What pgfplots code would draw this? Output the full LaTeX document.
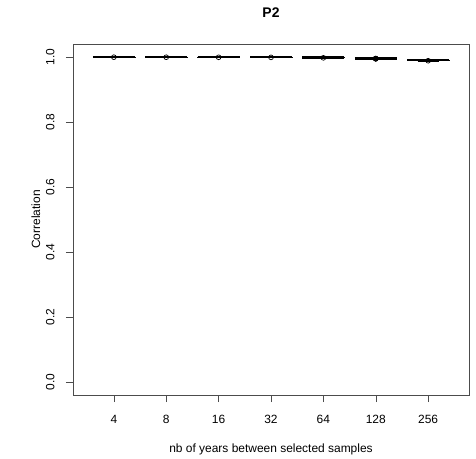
\documentclass[border=0pt]{standalone}
\usepackage{fontspec}
\setmainfont{Liberation Sans}
\usepackage{pgfplots}
\pgfplotsset{compat=1.18}
\usepgfplotslibrary{statistics}
\usetikzlibrary{calc}
\begin{document}
\begin{tikzpicture}
\begin{axis}[
  scale only axis,
  width=396bp, height=351bp,
  xmin=0.22, xmax=7.78,
  ymin=-0.04, ymax=1.04,
  axis line style={draw=black!70},
  xtick={1,2,3,4,5,6,7},
  xticklabels={4,8,16,32,64,128,256},
  ytick={0,0.2,0.4,0.6,0.8,1.0},
  yticklabels={0.0,0.2,0.4,0.6,0.8,1.0},
  tick align=outside,
  tick pos=left,
  major tick length=7bp,
  tick style={draw=black!70, line width=0.5pt},
  ticklabel style={font=\fontsize{12}{13}\selectfont},
  yticklabel style={rotate=90, anchor=south, yshift=8bp},
  xticklabel style={yshift=-10bp},
  xlabel={nb of years between selected samples},
  ylabel={Correlation},
  label style={font=\fontsize{12}{13}\selectfont},
  xlabel style={yshift=-13bp},
  ylabel style={yshift=-1bp},
  title={\textbf{P2}},
  title style={font=\fontsize{14}{15}\selectfont, yshift=17bp},
  boxplot/draw direction=y,
  boxplot/box extend=0.8,
  boxplot/whisker extend=0.4,
  every boxplot/.style={mark=o, mark size=2.4pt, draw=black, solid, mark options={solid, draw=black, line width=0.7pt}},
  boxplot/every median/.style={line width=2.2pt},
  boxplot/every box/.style={draw=black, line width=0.6pt},
  boxplot/every whisker/.style={draw=black, solid, line width=0.5pt},
]
\coordinate (A) at (rel axis cs:0,0);
\coordinate (B) at (rel axis cs:1,1);
\addplot+[boxplot prepared={draw position=1, median=0.9995, lower quartile=0.9993, upper quartile=0.9997, lower whisker=0.9990, upper whisker=0.9999}] coordinates {(0,0.9994)};
\addplot+[boxplot prepared={draw position=2, median=0.9994, lower quartile=0.9992, upper quartile=0.9996, lower whisker=0.9988, upper whisker=0.9999}] coordinates {(0,0.9993)};
\addplot+[boxplot prepared={draw position=3, median=0.9992, lower quartile=0.9990, upper quartile=0.9994, lower whisker=0.9985, upper whisker=0.9998}] coordinates {(0,0.9991)};
\addplot+[boxplot prepared={draw position=4, median=0.9990, lower quartile=0.9987, upper quartile=0.9992, lower whisker=0.9982, upper whisker=0.9996}] coordinates {(0,0.9988)};
\addplot+[boxplot prepared={draw position=5, median=0.9982, lower quartile=0.9979, upper quartile=0.9985, lower whisker=0.9972, upper whisker=0.9990}] coordinates {(0,0.9975)};
\addplot+[boxplot prepared={draw position=6, median=0.9955, lower quartile=0.9950, upper quartile=0.9960, lower whisker=0.9940, upper whisker=0.9970}] coordinates {(0,0.9950) (0,0.9946) (0,0.9944) (0,0.9953)};
\addplot+[boxplot prepared={draw position=7, median=0.9900, lower quartile=0.9893, upper quartile=0.9907, lower whisker=0.9880, upper whisker=0.9918}] coordinates {(0,0.9885)};
\end{axis}
\pgfresetboundingbox
\path[use as bounding box] ($(A)+(-73bp,-64bp)$) rectangle ($(B)+(7bp,44bp)$);
\end{tikzpicture}
\end{document}
